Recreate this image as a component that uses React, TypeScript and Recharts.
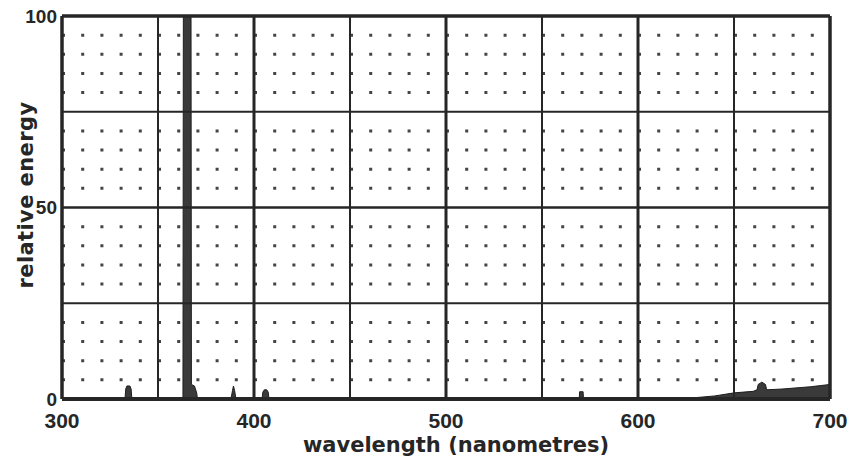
import React from 'react';
import { ComposedChart, Area, XAxis, YAxis, CartesianGrid, ReferenceLine } from 'recharts';

// spectrum: wavelength (nm) -> relative energy
const wavelengths = [
  300, 332.8, 333.2, 333.8, 335.4, 336, 336.4,
  363, 363.2, 367.2, 367.4, 369, 370.2, 370.5,
  388, 388.8, 389.3, 389.9, 390.6,
  404.2, 404.6, 405.4, 406.6, 407.4, 407.8,
  569.4, 569.6, 571.4, 571.6,
  622, 640, 650, 660, 662, 662.6, 664.5, 666.4, 667, 675, 685, 690, 695, 700,
];
const energies = [
  0, 0, 2.6, 3.4, 3.4, 2.6, 0,
  0, 100, 100, 3.8, 3.4, 1.5, 0,
  0, 2.2, 3.4, 2.2, 0,
  0, 1.8, 2.4, 2.4, 1.8, 0,
  0, 1.9, 1.9, 0,
  0, 0.8, 1.6, 2.0, 2.4, 3.8, 4.4, 3.8, 2.4, 2.6, 3.0, 3.2, 3.5, 3.8,
];

const xTicks = [300, 400, 500, 600, 700];
const yTicks = [0, 50, 100];
const minorX = [350, 450, 550, 650];
const majorX = [400, 500, 600];
const minorY = [25, 75];
const majorY = [50];
const dotRows = [5, 10, 15, 20, 30, 35, 40, 45, 55, 60, 65, 70, 80, 85, 90, 95];

const data = wavelengths.map((wl, i) => ({ wl, energy: energies[i] }));

const ink = '#262626';
const tickStyle = { fontSize: 21, fontWeight: 'bold', fill: ink, fontFamily: 'Liberation Sans, Arial, sans-serif' };
const yTickStyle = { ...tickStyle, fontSize: 19 };
const titleStyle = { fontSize: 21, fontWeight: 'bold', fill: ink, fontFamily: 'DejaVu Sans, sans-serif' };

const XTitle = () => (
  <text x={456} y={452} textAnchor="middle" style={titleStyle}>
    wavelength (nanometres)
  </text>
);

const YTitle = () => (
  <text x={0} y={0} textAnchor="middle" transform="translate(33, 195) rotate(-90)" style={{ ...titleStyle, letterSpacing: '0.4px' }}>
    relative energy
  </text>
);

export default function App() {
  return (
    <div style={{ position: 'absolute', left: 0, top: 0, width: 853, height: 459, background: '#fff' }}>
      <ComposedChart width={853} height={459} data={data} margin={{ top: 16, right: 23, bottom: 0, left: 0 }}>
        <CartesianGrid
          vertical={false}
          horizontalValues={dotRows}
          stroke="#444"
          strokeWidth={3}
          strokeDasharray="3 16.2"
        />
        {minorX.map((v) => (
          <ReferenceLine key={'mx' + v} x={v} stroke={ink} strokeWidth={2} />
        ))}
        {majorX.map((v) => (
          <ReferenceLine key={'Mx' + v} x={v} stroke={ink} strokeWidth={3} />
        ))}
        {minorY.map((v) => (
          <ReferenceLine key={'my' + v} y={v} stroke={ink} strokeWidth={2} />
        ))}
        {majorY.map((v) => (
          <ReferenceLine key={'My' + v} y={v} stroke={ink} strokeWidth={2.5} />
        ))}
        <Area
          type="linear"
          dataKey="energy"
          stroke="#1e1e1e"
          strokeWidth={1}
          fill="#3a3a3a"
          fillOpacity={1}
          isAnimationActive={false}
        />
        <ReferenceLine x={300} stroke={ink} strokeWidth={3.5} />
        <ReferenceLine x={700} stroke={ink} strokeWidth={3.5} />
        <ReferenceLine y={0} stroke={ink} strokeWidth={4} />
        <ReferenceLine y={100} stroke={ink} strokeWidth={3.5} />
        <XAxis
          type="number"
          dataKey="wl"
          domain={[300, 700]}
          ticks={xTicks}
          height={60}
          axisLine={false}
          tickLine={false}
          tickSize={6}
          tickMargin={8}
          tick={tickStyle}
          interval={0}
          label={<XTitle />}
        />
        <YAxis
          type="number"
          domain={[0, 100]}
          ticks={yTicks}
          width={62}
          axisLine={false}
          tickLine={false}
          tickSize={3}
          tickMargin={2}
          tick={yTickStyle}
          interval={0}
          label={<YTitle />}
        />
      </ComposedChart>
    </div>
  );
}
